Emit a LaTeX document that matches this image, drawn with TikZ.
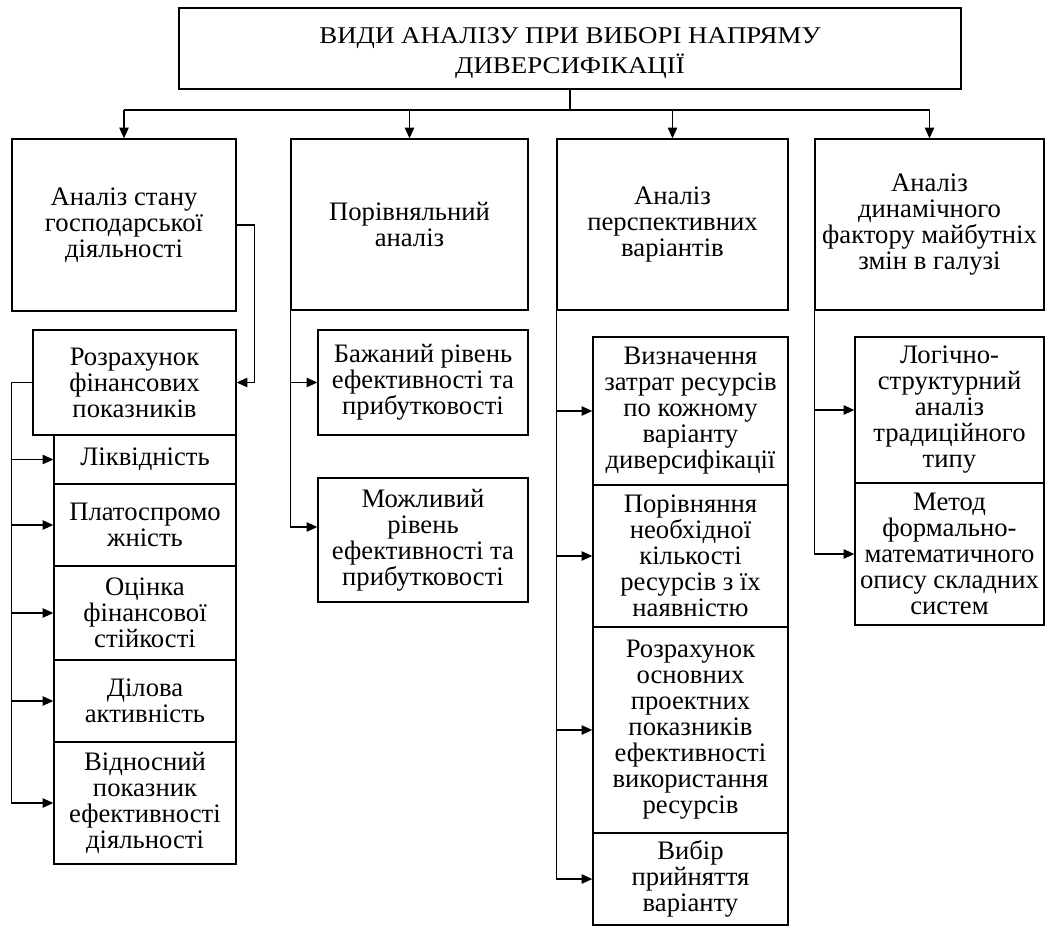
\documentclass[tikz,border=0pt]{standalone}
\usepackage{fontspec}
\setmainfont{Liberation Serif}
\newfontfamily\titlefont{Liberation Serif}[FakeStretch=1.12]
\usetikzlibrary{arrows.meta}
\begin{document}
\begin{tikzpicture}[x=0.75pt,y=-0.75pt,
  box/.style={draw, line width=1pt, inner sep=0pt, align=center,
    font=\fontsize{20}{19.5}\selectfont},
  titletext/.style={inner sep=0pt, align=center, yshift=-3.4pt,
    font=\titlefont\fontsize{18}{22.5}\selectfont},
  bxc/.style n args={4}{minimum width={(#3-#1)*0.75pt}, minimum height={(#4-#2)*0.75pt},
    at={({(#1+#3)/2},{(#2+#4)/2})}},
  arr/.style={line width=1pt, -{Triangle[length=8pt,width=7pt]}},
  ln/.style={line width=1pt}]
\useasboundingbox (0,0) rectangle (1046,928);

% top
\node[box, bxc={179}{8}{961}{89},
  label={[titletext]center:ВИДИ АНАЛІЗУ ПРИ ВИБОРІ НАПРЯМУ\\ДИВЕРСИФІКАЦІЇ}] (top) {};

% level 1
\node[box, bxc={12}{139}{236}{311}] (b1) {Аналіз стану\\господарської\\діяльності};
\node[box, bxc={291}{139}{528}{310}] (b2) {Порівняльний\\аналіз};
\node[box, bxc={557}{139}{788}{310}] (b3) {Аналіз\\перспективних\\варіантів};
\node[box, bxc={815}{139}{1044}{310}] (b4) {Аналіз\\динамічного\\фактору майбутніх\\змін в галузі};

% column 1
\node[box, bxc={33}{330}{236}{435}] (r1) {Розрахунок\\фінансових\\показників};
\node[box, bxc={54}{435}{236}{484}] (s1) {Ліквідність};
\node[box, bxc={54}{484}{236}{566}] (s2) {Платоспромо\\жність};
\node[box, bxc={54}{566}{236}{660}] (s3) {Оцінка\\фінансової\\стійкості};
\node[box, bxc={54}{660}{236}{742}] (s4) {Ділова\\активність};
\node[box, bxc={54}{742}{236}{864}] (s5) {Відносний\\показник\\ефективності\\діяльності};

% column 2
\node[box, bxc={318}{330}{528}{435}] (p1) {Бажаний рівень\\ефективності та\\прибутковості};
\node[box, bxc={318}{478}{528}{602}] (p2) {Можливий\\рівень\\ефективності та\\прибутковості};

% column 3
\node[box, bxc={593}{337}{788}{485}] (v1) {Визначення\\затрат ресурсів\\по кожному\\варіанту\\диверсифікації};
\node[box, bxc={593}{485}{788}{627}] (v2) {Порівняння\\необхідної\\кількості\\ресурсів з їх\\наявністю};
\node[box, bxc={593}{627}{788}{833}] (v3) {Розрахунок\\основних\\проектних\\показників\\ефективності\\використання\\ресурсів};
\node[box, bxc={593}{833}{788}{925}] (v4) {Вибір\\прийняття\\варіанту};

% column 4
\node[box, bxc={855}{337}{1044}{483}] (l1) {Логічно-\\структурний\\аналіз\\традиційного\\типу};
\node[box, bxc={855}{483}{1044}{625}] (l2) {Метод\\формально-\\математичного\\опису складних\\систем};

% top connectors
\coordinate (bus) at (0,110);
\coordinate (p2in) at (0,527);
\draw[ln] (top.south) -- (top.south |- bus);
\draw[ln] (b1.north |- bus) -- (b4.north |- bus);
\foreach \n in {b1,b2,b3,b4}
  \draw[arr] (\n.north |- bus) -- (\n.north);

% column 1 connectors
\draw[arr] (b1.east) -- ++(18,0) |- (r1.east);
\draw[ln] (r1.west) -- (r1.west -| b1.west) -- (b1.west |- s5.west);
\foreach \n in {s1,s2,s3,s4,s5}
  \draw[arr] (b1.west |- \n.west) -- (\n.west);

% column 2 connectors
\draw[ln] (b2.south west) -- (b2.west |- p2in);
\draw[arr] (b2.west |- p1.west) -- (p1.west);
\draw[arr] (b2.west |- p2in) -- (p2.west |- p2in);

% column 3 connectors
\draw[ln] (b3.south west) -- (b3.west |- v4.west);
\foreach \n in {v1,v2,v3,v4}
  \draw[arr] (b3.west |- \n.west) -- (\n.west);

% column 4 connectors
\draw[ln] (b4.south west) -- (b4.west |- l2.west);
\foreach \n in {l1,l2}
  \draw[arr] (b4.west |- \n.west) -- (\n.west);
\end{tikzpicture}
\end{document}
